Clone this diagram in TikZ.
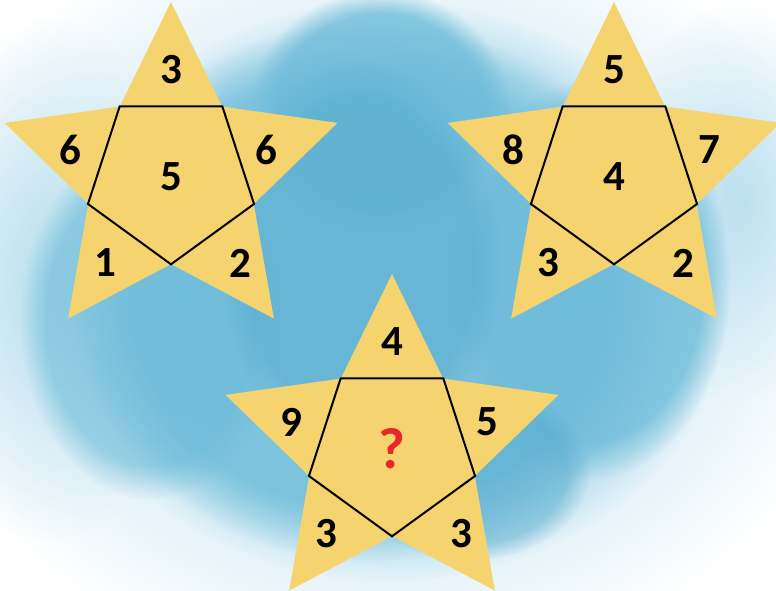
\documentclass[tikz,border=0pt]{standalone}
\usepackage{fontspec}
\setmainfont{Carlito}
\usetikzlibrary{shapes.geometric,fadings}
\definecolor{StarFill}{HTML}{F5D470}
\definecolor{WaterLight}{HTML}{A8D8EB}
\definecolor{Water}{HTML}{6CBBD9}
\definecolor{WaterDeep}{HTML}{55ABCE}
\definecolor{Query}{HTML}{E8262B}
\tikzfading[name=soft wash,inner color=transparent!0,outer color=transparent!100]
\tikzset{starbox/.style={star,star points=5,star point ratio=2.01,minimum size=350pt,inner sep=0pt,draw=none,fill=StarFill},rim/.style={line width=2pt,line join=miter},cell/.style={font=\fontsize{43}{43}\selectfont\bfseries,inner sep=0pt},ask/.style={font=\fontsize{58}{58}\selectfont\bfseries,text=Query,inner sep=0pt},halo/.style={path fading=soft wash},wash/.style={path fading=circle with fuzzy edge 20 percent}}

\begin{document}
\begin{tikzpicture}[x=1pt,y=1pt]
        \useasboundingbox (0,0) rectangle (776,591);
        \fill[white] (0,0) rectangle (776,591);
        % watercolour wash behind the stars
        \fill[WaterLight,halo] (380,300) ellipse (480 and 390);
        \fill[WaterLight,halo,opacity=.7] (50,311) ellipse (150 and 260);
        \fill[WaterLight,halo,opacity=.7] (740,391) ellipse (130 and 200);
        \fill[WaterLight,wash,opacity=.8] (390,300) ellipse (340 and 290);
        \fill[Water,wash,opacity=.75] (370,300) ellipse (300 and 270);
        \fill[Water,wash,opacity=.75] (590,311) ellipse (140 and 200);
        \fill[Water,wash,opacity=.6] (150,271) ellipse (130 and 180);
        \fill[Water,wash,opacity=.75] (380,481) ellipse (130 and 120);
        \fill[WaterDeep,wash,opacity=.5] (360,330) ellipse (140 and 200);
        \fill[WaterDeep,wash,opacity=.5] (470,120) ellipse (120 and 90);
        % the three stars
        \node[starbox] (s1) at (171,414) {};
        \node[starbox] (s2) at (614,414) {};
        \node[starbox] (s3) at (392,142) {};
        \draw[rim] (s1.inner point 1) -- (s1.inner point 2) -- (s1.inner point 3) -- (s1.inner point 4) -- (s1.inner point 5) -- cycle;
        \draw[rim] (s2.inner point 1) -- (s2.inner point 2) -- (s2.inner point 3) -- (s2.inner point 4) -- (s2.inner point 5) -- cycle;
        \draw[rim] (s3.inner point 1) -- (s3.inner point 2) -- (s3.inner point 3) -- (s3.inner point 4) -- (s3.inner point 5) -- cycle;
        % numbers, star one
        \node[cell] (s1top) at ([shift={(0,107)}]s1.center) {3};
        \node[cell] (s1left) at ([shift={(-101,27)}]s1.center) {6};
        \node[cell] (s1right) at ([shift={(95,27)}]s1.center) {6};
        \node[cell] (s1mid) at (s1.center) {5};
        \node[cell] (s1lower) at ([shift={(-66,-86)}]s1.center) {1};
        \node[cell] (s1rlower) at ([shift={(69,-86)}]s1.center) {2};
        % star two
        \node[cell] (s2top) at ([shift={(0,107)}]s2.center) {5};
        \node[cell] (s2left) at ([shift={(-101,27)}]s2.center) {8};
        \node[cell] (s2right) at ([shift={(95,27)}]s2.center) {7};
        \node[cell] (s2mid) at (s2.center) {4};
        \node[cell] (s2lower) at ([shift={(-66,-86)}]s2.center) {3};
        \node[cell] (s2rlower) at ([shift={(69,-86)}]s2.center) {2};
        % star three
        \node[cell] (s3top) at ([shift={(0,107)}]s3.center) {4};
        \node[cell] (s3left) at ([shift={(-101,27)}]s3.center) {9};
        \node[cell] (s3right) at ([shift={(95,27)}]s3.center) {5};
        \node[ask] (s3mid) at (s3.center) {?};
        \node[cell] (s3lower) at ([shift={(-66,-85)}]s3.center) {3};
        \node[cell] (s3rlower) at ([shift={(69,-85)}]s3.center) {3};
      \end{tikzpicture}
\end{document}
